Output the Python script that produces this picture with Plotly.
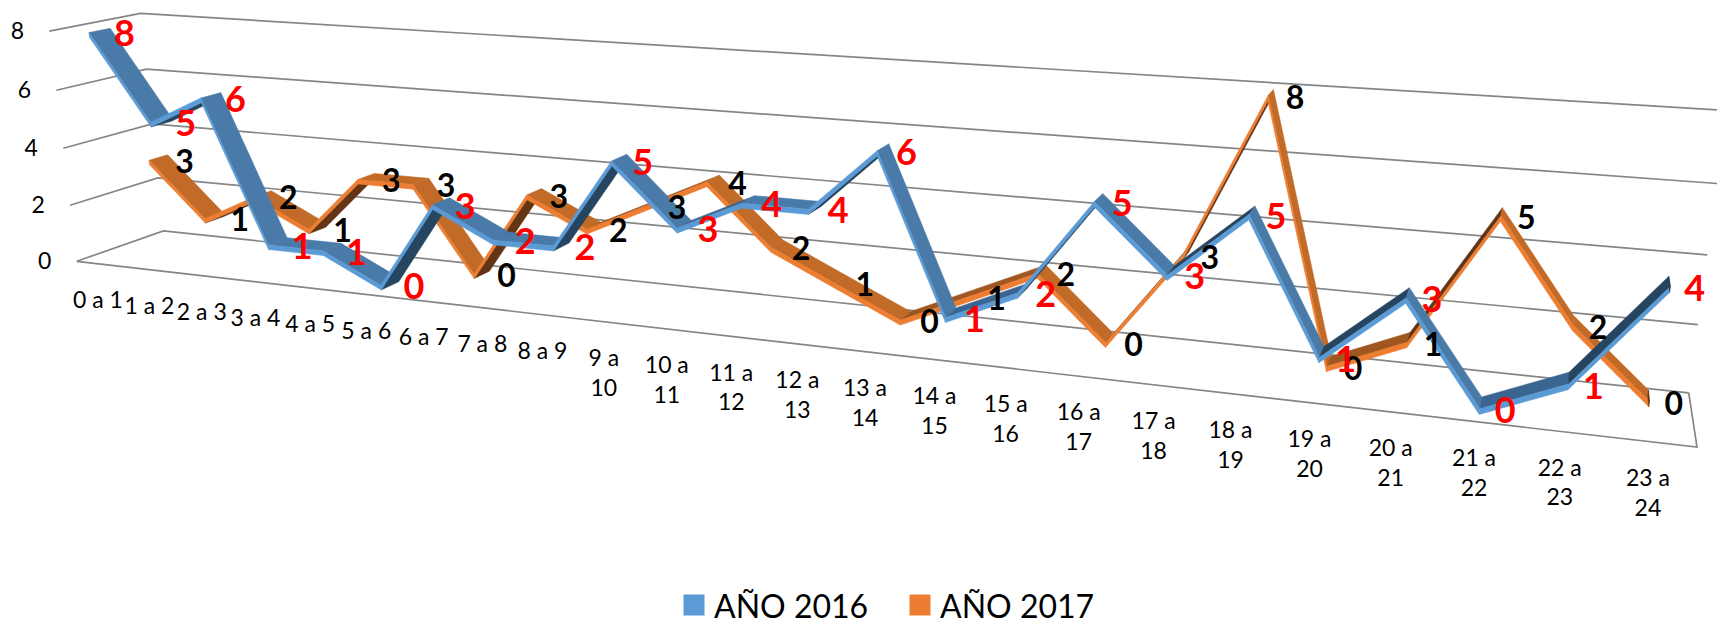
import numpy as np
import plotly.graph_objects as go

# ---------- data ----------
HOURS = ["0 a 1", "1 a 2", "2 a 3", "3 a 4", "4 a 5", "5 a 6", "6 a 7", "7 a 8", "8 a 9",
         "9 a<br>10", "10 a<br>11", "11 a<br>12", "12 a<br>13", "13 a<br>14", "14 a<br>15",
         "15 a<br>16", "16 a<br>17", "17 a<br>18", "18 a<br>19", "19 a<br>20", "20 a<br>21",
         "21 a<br>22", "22 a<br>23", "23 a<br>24"]
ANO_2016 = [8, 5, 6, 1, 1, 0, 3, 2, 2, 5, 3, 4, 4, 6, 1, 2, 5, 3, 5, 1, 3, 0, 1, 4]
ANO_2017 = [3, 1, 2, 1, 3, 3, 0, 3, 2, 3, 4, 2, 1, 0, 1, 2, 0, 3, 8, 0, 1, 5, 2, 0]
VALUE_TICKS = [0, 2, 4, 6, 8]
NAME_2016 = "AÑO 2016"
NAME_2017 = "AÑO 2017"

# ---------- 3-D scene: a pinhole camera fitted to the chart box ----------
# (hour position, value, depth) -> page pixel
CAMERA_ANCHORS = [
    ((0, 0, 0), (76, 266)), ((0, 4, 0), (62, 151)), ((0, 8, 0), (49, 32)),
    ((0, 0, 1), (163, 236)), ((0, 4, 1), (151, 126)), ((0, 8, 1), (142, 14)),
    ((24, 0, 1), (1689, 400)), ((24, 4, 1), (1707, 260)), ((24, 8, 1), (1727, 112)),
    ((24, 0, 0), (1697, 456)),
    ((0.5, 0, 0), (104, 269)), ((5.5, 0, 0), (371, 300)), ((10.5, 0, 0), (671, 336)),
    ((17.5, 0, 0), (1157, 393)), ((23.5, 0, 0), (1652, 451)),
]
# the box's value axis runs slightly past the top gridline relative to the marks
MARK_SCALE = 0.97


def fit_camera(anchors):
    rows = []
    for (h, v, d), (px, py) in anchors:
        w = [h / 24, v / 8, d, 1]
        u, t = px / 1000, py / 1000
        rows.append(w + [0, 0, 0, 0] + [-u * c for c in w])
        rows.append([0, 0, 0, 0] + w + [-t * c for c in w])
    return np.linalg.svd(np.array(rows))[2][-1].reshape(3, 4)


CAM = fit_camera(CAMERA_ANCHORS)


def proj(h, v, d):
    p = CAM @ np.array([h / 24, v / 8, d, 1.0])
    return 1000 * p[0] / p[2], 1000 * p[1] / p[2]


def quad_trace(corners, color):
    pts = [proj(*c) for c in corners] + [proj(*corners[0])]
    return go.Scatter(x=[p[0] for p in pts], y=[p[1] for p in pts], mode="lines", fill="toself",
                      fillcolor=color, line=dict(color=color, width=0.5), hoverinfo="skip",
                      showlegend=False)


def signed_area(corners):
    pts = [proj(*c) for c in corners]
    return sum(pts[i][0] * pts[(i + 1) % 4][1] - pts[(i + 1) % 4][0] * pts[i][1] for i in range(4))


THICK = 0.16


def ribbon(values, d0, d1, front, top, mid, dark):
    out = []
    vals = [v * MARK_SCALE for v in values]
    for i in range(len(vals) - 1):
        h0, h1 = i + 0.5, i + 1.5
        v0, v1 = vals[i], vals[i + 1]
        rise = values[i + 1] - values[i]
        upper = [(h0, v0 + THICK, d0), (h1, v1 + THICK, d0), (h1, v1 + THICK, d1), (h0, v0 + THICK, d1)]
        # seen from underneath when the winding of the face flips on screen
        flipped = signed_area(upper) > 0
        if flipped:
            face = [(h0, v0, d0), (h1, v1, d0), (h1, v1, d1), (h0, v0, d1)]
        else:
            face = upper
        color = top if rise <= 0 else (mid if rise == 1 else dark)
        if flipped:
            color = dark
        out.append(quad_trace(face, color))
        out.append(quad_trace([(h0, v0, d0), (h1, v1, d0), (h1, v1 + THICK, d0), (h0, v0 + THICK, d0)], front))
    n = len(vals) - 0.5
    out.append(quad_trace([(n, vals[-1], d0), (n, vals[-1] + THICK, d0),
                           (n, vals[-1] + THICK, d1), (n, vals[-1], d1)], dark))
    return out


def value_label_trace(values, d0, font):
    xs, ys = [], []
    for i, v in enumerate(values):
        x, y = proj(i + 0.5, v * MARK_SCALE, d0)
        xs.append(x + 35 - 10 * i / 23)
        ys.append(y)
    return go.Scatter(x=xs, y=ys, mode="text", text=[str(v) for v in values], textposition="middle center",
                      textfont=font, hoverinfo="skip", showlegend=False, cliponaxis=False)


GRID = "#868686"
fig = go.Figure()

# chart box: walls, floor
for v in VALUE_TICKS:
    pts = [proj(0, v, 0), proj(0, v, 1), proj(24, v, 1)]
    fig.add_trace(go.Scatter(x=[p[0] for p in pts], y=[p[1] for p in pts], mode="lines",
                             line=dict(color=GRID, width=1.7), hoverinfo="skip", showlegend=False))
pts = [proj(0, 0, 0), proj(24, 0, 0), proj(24, 0, 1)]
fig.add_trace(go.Scatter(x=[p[0] for p in pts], y=[p[1] for p in pts], mode="lines",
                         line=dict(color=GRID, width=1.7), hoverinfo="skip", showlegend=False))

# ribbons: the far series first
for tr in ribbon(ANO_2017, 0.64, 0.86, "#ED7D31", "#C26A27", "#A0561F", "#633515"):
    fig.add_trace(tr)
for tr in ribbon(ANO_2016, 0.14, 0.37, "#5B9BD5", "#4A7AA8", "#3A6590", "#264560"):
    fig.add_trace(tr)

# value axis labels
vt = [proj(0, v, 0) for v in VALUE_TICKS]
fig.add_trace(go.Scatter(x=[p[0] - 32 for p in vt], y=[p[1] + 2 for p in vt], mode="text",
                         text=[str(v) for v in VALUE_TICKS], textposition="middle center",
                         textfont=dict(family="Lato", size=23, color="#000000"),
                         hoverinfo="skip", showlegend=False))

# category labels
ct = [proj(i + 0.5, 0, 0) for i in range(len(HOURS))]
fig.add_trace(go.Scatter(x=[p[0] - 4 for p in ct], y=[p[1] + 27 for p in ct], mode="text",
                         text=HOURS, textposition="bottom center",
                         textfont=dict(family="Lato", size=23, color="#000000"),
                         hoverinfo="skip", showlegend=False))

# data labels
fig.add_trace(value_label_trace(ANO_2017, 0.64, dict(family="Lato", size=32, color="#000000", weight="bold")))
fig.add_trace(value_label_trace(ANO_2016, 0.14, dict(family="Lato", size=36, color="#FF0000", weight="bold")))

# legend entries
for name, color in ((NAME_2016, "#5B9BD5"), (NAME_2017, "#ED7D31")):
    fig.add_trace(go.Scatter(x=[None], y=[None], mode="markers", name=name,
                             marker=dict(symbol="square", size=16, color=color,
                                         line=dict(color=color, width=5))))

fig.update_layout(
    width=1717, height=633, margin=dict(l=0, r=0, t=0, b=0),
    paper_bgcolor="white", plot_bgcolor="white",
    xaxis=dict(range=[0, 1717], visible=False, fixedrange=True),
    yaxis=dict(range=[633, 0], visible=False, fixedrange=True),
    legend=dict(orientation="h", x=674 / 1717, y=-0.019, xanchor="left", yanchor="bottom",
                font=dict(family="Lato", size=32, color="#000000"),
                entrywidth=181, entrywidthmode="pixels", itemwidth=30, bgcolor="rgba(0,0,0,0)"),
)

fig.write_html("out.html", config=dict(displayModeBar=False),
               post_script="document.body.style.margin='0';")
